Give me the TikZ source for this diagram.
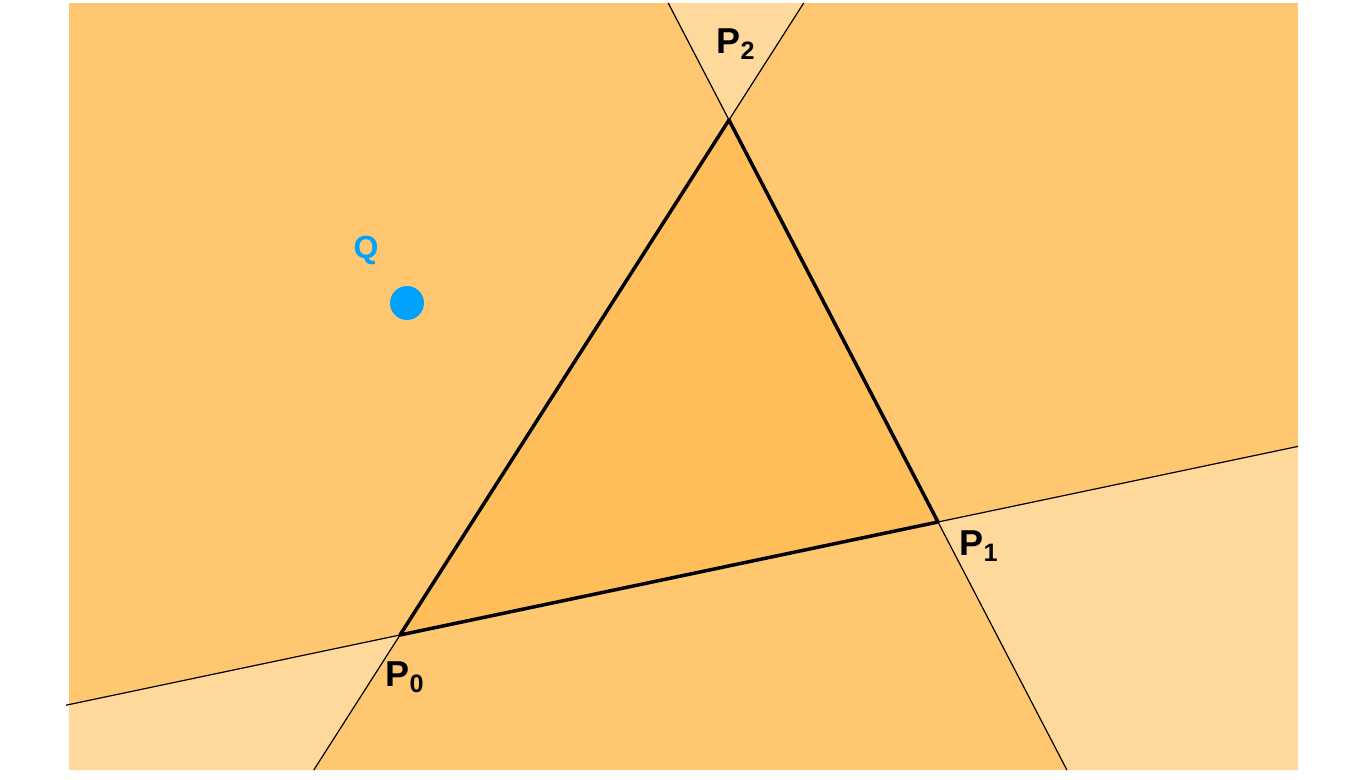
\documentclass[tikz,border=0pt]{standalone}
\usepackage{fontspec}
\setmainfont{Liberation Sans}
\usepackage{tikz}
\usetikzlibrary{positioning,calc}
\usepackage{xcolor}
\definecolor{halfplane}{HTML}{FFC870}
\definecolor{outside}{HTML}{FFD99B}
\definecolor{inside}{HTML}{FFBE5A}
\definecolor{query}{HTML}{00A2FF}

\tikzset{
  edge/.style={black, line width=1.75pt, line join=round},
  extline/.style={black, line width=0.6pt},
  vlabel/.style={font=\fontsize{18}{18}\selectfont\bfseries, inner sep=0pt}
}

\begin{document}
\begin{tikzpicture}[x=0.5pt, y=-0.5pt]
    \useasboundingbox (0,0) rectangle (1360,780);
    % vertices
    \coordinate (p0) at (400,635);
    \coordinate (p1) at (938,522);
    \coordinate (p2) at (729,120);
    % ends of the extended edge lines
    \coordinate (e01l) at (66,705.2);
    \coordinate (e01r) at (1298,446.4);
    \coordinate (e02b) at (313.8,770);
    \coordinate (e02t) at (803.7,3);
    \coordinate (e12t) at (668.2,3);
    \coordinate (e12b) at (1066.9,770);
    % background plane
    \fill[halfplane] (69,3) rectangle (1298,770);
    % regions outside two edges
    \fill[outside] (e12t) -- (p2) -- (e02t) -- cycle;
    \fill[outside] (69,704.5) -- (p0) -- (e02b) -- (69,770) -- cycle;
    \fill[outside] (p1) -- (e01r) -- (1298,770) -- (e12b) -- cycle;
    % triangle
    \fill[inside] (p0) -- (p1) -- (p2) -- cycle;
    % extended lines
    \draw[extline] (e01l) -- (p0);
    \draw[extline] (p1) -- (e01r);
    \draw[extline] (e02b) -- (p0);
    \draw[extline] (p2) -- (e02t);
    \draw[extline] (e12t) -- (p2);
    \draw[extline] (p1) -- (e12b);
    \draw[edge] (p0) -- (p1) -- (p2) -- cycle;
    % labels
    \node[vlabel] (l2) at (736,44) {P\textsubscript{2}};
    \node[vlabel] (l1) at (979,546) {P\textsubscript{1}};
    \node[vlabel] (l0) at (405,677) {P\textsubscript{0}};
    % query point
    \fill[query] (407,303) circle (17);
    \node[query, font=\fontsize{16}{16}\selectfont\bfseries, inner sep=0pt] (q) at (366,250) {Q};
\end{tikzpicture}
\end{document}
